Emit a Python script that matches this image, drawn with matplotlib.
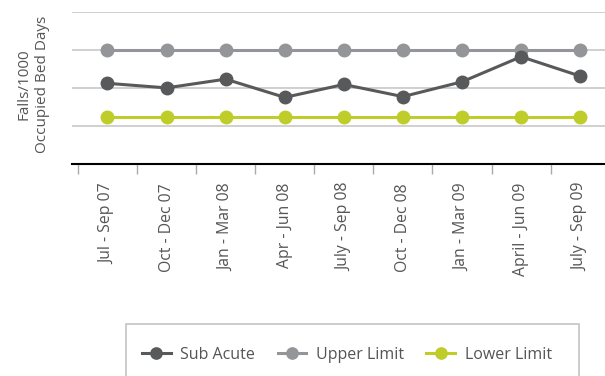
import matplotlib
matplotlib.use('Agg')
import matplotlib.pyplot as plt
from matplotlib.patches import Rectangle

plt.rcParams['font.family'] = ['Open Sans', 'DejaVu Sans']

quarters = ['Jul - Sep 07', 'Oct - Dec 07', 'Jan - Mar 08', 'Apr - Jun 08',
            'July - Sep 08', 'Oct - Dec 08', 'Jan - Mar 09', 'April - Jun 09',
            'July - Sep 09']
sub_acute = [2.11, 1.99, 2.22, 1.74, 2.08, 1.76, 2.15, 2.81, 2.30]
upper_limit = [3.0] * 9
lower_limit = [1.22] * 9

dark = '#58595b'
mid = '#939598'
lime = '#bfcd2b'
text_col = '#555555'

fig = plt.figure(figsize=(6.05, 3.76), dpi=100)
ax = fig.add_axes([72 / 605, 1 - 163.5 / 376, 1 - 72 / 605, (163.5 - 11.5) / 376])

xs = range(len(quarters))
ax.plot(xs, sub_acute, color=dark, lw=2.2, marker='o', ms=9, label='Sub Acute', zorder=4)
ax.plot(xs, upper_limit, color=mid, lw=2.2, marker='o', ms=9, label='Upper Limit', zorder=3)
ax.plot(xs, lower_limit, color=lime, lw=2.2, marker='o', ms=9, label='Lower Limit', zorder=3)

ax.set_xlim(-0.6, 8.42)
ax.set_ylim(0, 4)
ax.set_yticks([1, 2, 3, 4])
ax.yaxis.grid(True, color='#c8c8c8', lw=1.2)
ax.set_axisbelow(True)
ax.tick_params(axis='y', length=0, labelleft=False)

ax.set_xticks(list(xs))
ax.set_xticklabels(quarters, rotation=90, fontsize=11.3, color=text_col)
ax.set_xticks([i - 0.5 for i in range(len(quarters))], minor=True)
ax.tick_params(axis='x', which='major', length=0, pad=14)
ax.tick_params(axis='x', which='minor', length=7, width=1, color='#aaaaaa')

for side in ['top', 'right', 'left']:
    ax.spines[side].set_visible(False)
ax.spines['bottom'].set_color('black')
ax.spines['bottom'].set_linewidth(1.5)

fig.text(33 / 605, 1 - 84 / 376, 'Falls/1000\nOccupied Bed Days', rotation=90,
         ha='center', va='center', fontsize=11, color=text_col, linespacing=1.3)

# legend box runs off the bottom edge
fig.patches.append(Rectangle((126 / 605, -0.1), (579 - 126) / 605, 0.1 + 52 / 376,
                             transform=fig.transFigure, fill=False,
                             edgecolor='#c4c4c4', lw=1.2))
fig.legend(loc='center', bbox_to_anchor=(347 / 605, 1 - 355 / 376), ncol=3,
           frameon=False, fontsize=11.5, handlelength=1.8, columnspacing=1.4,
           handletextpad=0.6, labelcolor=text_col, markerscale=0.9)

fig.savefig('out.png', dpi=100)
